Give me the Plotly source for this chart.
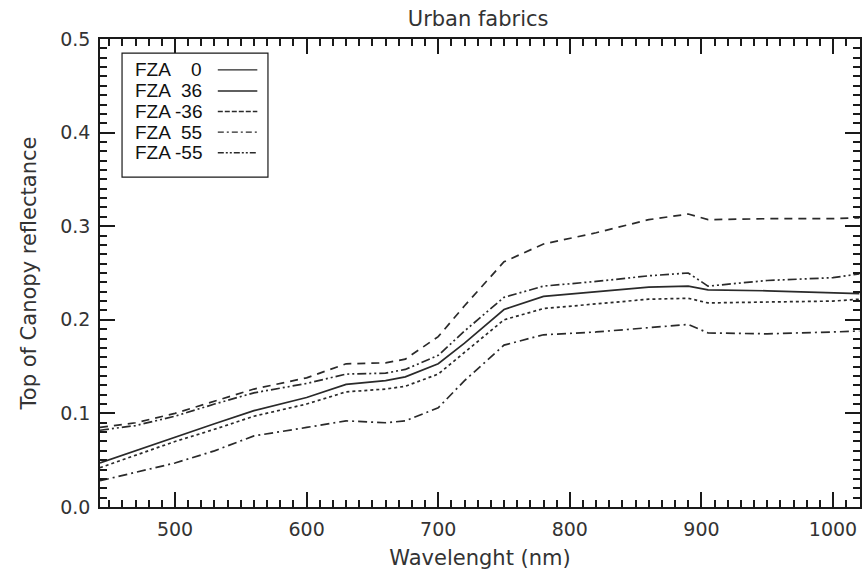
import plotly.graph_objects as go

wavelength = [443, 470, 500, 530, 560, 600, 630, 660, 675, 700, 720, 750, 780, 820, 860, 890, 905, 950, 1000, 1020]

fza_0 = [0.047, 0.060, 0.075, 0.089, 0.103, 0.117, 0.131, 0.135, 0.139, 0.153, 0.175, 0.211, 0.225, 0.230, 0.235, 0.236, 0.232, 0.231, 0.229, 0.228]
fza_36 = [0.042, 0.055, 0.070, 0.083, 0.097, 0.110, 0.123, 0.126, 0.129, 0.142, 0.165, 0.200, 0.212, 0.217, 0.222, 0.223, 0.218, 0.219, 0.220, 0.222]
fza_m36 = [0.085, 0.090, 0.100, 0.113, 0.126, 0.138, 0.153, 0.154, 0.158, 0.182, 0.215, 0.262, 0.281, 0.293, 0.307, 0.313, 0.307, 0.308, 0.308, 0.309]
fza_55 = [0.028, 0.037, 0.047, 0.060, 0.076, 0.085, 0.092, 0.090, 0.092, 0.106, 0.135, 0.173, 0.184, 0.187, 0.192, 0.195, 0.186, 0.185, 0.187, 0.188]
fza_m55 = [0.082, 0.087, 0.097, 0.110, 0.122, 0.132, 0.142, 0.143, 0.147, 0.162, 0.188, 0.224, 0.236, 0.241, 0.247, 0.250, 0.236, 0.242, 0.245, 0.249]

series_names = ["FZA", "FZA", "FZA", "FZA", "FZA"]
series_numbers = ["0", "36", "-36", "55", "-55"]
series_values = [fza_0, fza_36, fza_m36, fza_55, fza_m55]
plot_dashes = ["solid", "dot", "8px,6px", "9px,4px,2px,4px", "9px,3px,2px,3px,2px,3px"]
legend_dashes = ["solid", "solid", "5px,2px", "6px,3px,2px,3px", "6px,2px,2px,2px,2px,2px"]

line_color = "#2a2a2a"
text_color = "#333333"
axis_color = "#1a1a1a"

fig = go.Figure()
for name, num, vals, dash in zip(series_names, series_numbers, series_values, plot_dashes):
    fig.add_trace(go.Scatter(x=wavelength, y=vals, mode="lines", name=f"{name} {num}",
                             line=dict(color=line_color, width=1.7, dash=dash),
                             showlegend=False))

# Custom legend box (matching IDL-style legend)
lx0, lx1, ly0, ly1 = 0.029, 0.221, 0.705, 0.970
fig.add_shape(type="rect", xref="paper", yref="paper", x0=lx0, x1=lx1, y0=ly0, y1=ly1,
              line=dict(color=axis_color, width=1.2), fillcolor="white", layer="above")
row_y = [0.934, 0.889, 0.845, 0.801, 0.757]
for ry, name, num, ldash in zip(row_y, series_names, series_numbers, legend_dashes):
    fig.add_annotation(xref="paper", yref="paper", x=0.043, y=ry, text=name, showarrow=False,
                       xanchor="left", yanchor="middle",
                       font=dict(family="Liberation Sans, Arial", size=19, color="#111111"))
    fig.add_annotation(xref="paper", yref="paper", x=0.137, y=ry, text=num, showarrow=False,
                       xanchor="right", yanchor="middle",
                       font=dict(family="Liberation Sans, Arial", size=19, color="#111111"))
    fig.add_shape(type="line", xref="paper", yref="paper", x0=0.155, x1=0.207, y0=ry, y1=ry,
                  line=dict(color=line_color, width=1.4, dash=ldash), layer="above")

fig.update_layout(
    width=867, height=575,
    margin=dict(l=100, r=7, t=39, b=68, autoexpand=False),
    paper_bgcolor="white", plot_bgcolor="white",
    title=dict(text="Urban fabrics", x=0.5515, xanchor="center", y=0.968, yanchor="middle",
               font=dict(family="DejaVu Sans", size=21, color=text_color)),
    showlegend=False,
    xaxis=dict(
        range=[443, 1020.5], tick0=0, dtick=100,
        ticks="inside", ticklen=15, tickwidth=2, tickcolor=axis_color,
        showline=True, linecolor=axis_color, linewidth=1.6, mirror="ticks",
        showgrid=False, zeroline=False, ticklabelstandoff=4,
        tickfont=dict(family="DejaVu Sans", size=19, color=text_color),
        minor=dict(dtick=10, ticks="inside", ticklen=7, tickwidth=1.6, tickcolor=axis_color),
        title=dict(text="Wavelenght (nm)", font=dict(family="DejaVu Sans", size=21, color=text_color), standoff=12),
    ),
    yaxis=dict(
        range=[0, 0.5], tick0=0, dtick=0.1, tickformat=".1f",
        ticks="inside", ticklen=15, tickwidth=2, tickcolor=axis_color,
        showline=True, linecolor=axis_color, linewidth=1.6, mirror="ticks",
        showgrid=False, zeroline=False, ticklabelstandoff=4,
        tickfont=dict(family="DejaVu Sans", size=19, color=text_color),
        minor=dict(dtick=0.01, ticks="inside", ticklen=7, tickwidth=1.6, tickcolor=axis_color),
        title=dict(text="Top of Canopy reflectance", font=dict(family="DejaVu Sans", size=21, color=text_color), standoff=18),
    ),
)

fig.write_html("out.html")
